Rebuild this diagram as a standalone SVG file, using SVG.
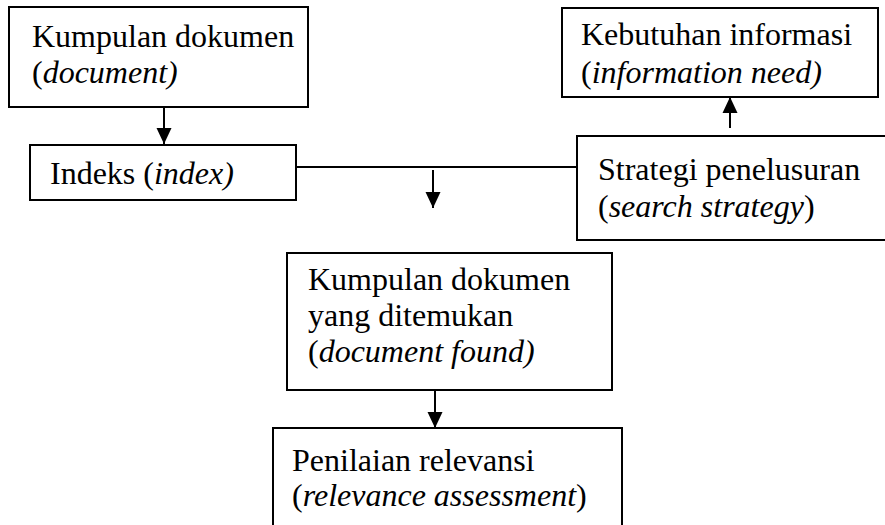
<svg xmlns="http://www.w3.org/2000/svg" width="885" height="525" viewBox="0 0 885 525">
<defs>
<style>
.box{fill:#fff;stroke:#000;stroke-width:2}
.t{font-family:'Liberation Serif','DejaVu Serif',serif;font-size:32px;fill:#000}
.i{font-style:italic}
.c{stroke:#000;stroke-width:2;fill:none}
</style>
<marker id="ah" markerUnits="userSpaceOnUse" markerWidth="16" markerHeight="16" viewBox="0 0 16 16" refX="16" refY="8" orient="auto">
<path d="M0,0.5 L16,8 L0,15.5 Z" fill="#000"/>
</marker>
</defs>
<rect width="885" height="525" fill="#fff"/>
<g id="connectors">
<line class="c" x1="164" y1="107" x2="164" y2="144" marker-end="url(#ah)"/>
<line class="c" x1="296" y1="167" x2="577" y2="167"/>
<line class="c" x1="433" y1="170" x2="433" y2="208" marker-end="url(#ah)"/>
<line class="c" x1="730" y1="128" x2="730" y2="97" marker-end="url(#ah)"/>
<line class="c" x1="435" y1="390" x2="435" y2="428" marker-end="url(#ah)"/>
</g>
<g id="node-dokumen">
<rect class="box" x="9" y="7" width="299" height="100"/>
<text class="t" x="32" y="47">Kumpulan dokumen</text>
<text class="t" x="32" y="83">(<tspan class="i">document)</tspan></text>
</g>
<g id="node-indeks">
<rect class="box" x="30" y="145" width="266" height="55"/>
<text class="t" x="50" y="184">Indeks (<tspan class="i">index)</tspan></text>
</g>
<g id="node-kebutuhan">
<rect class="box" x="562" y="8" width="316" height="89"/>
<text class="t" x="581" y="45">Kebutuhan informasi</text>
<text class="t" x="581" y="83">(<tspan class="i">information need)</tspan></text>
</g>
<g id="node-strategi">
<rect class="box" x="577" y="136" width="320" height="104"/>
<text class="t" x="598" y="180">Strategi penelusuran</text>
<text class="t" x="598" y="217">(<tspan class="i">search strategy</tspan>)</text>
</g>
<g id="node-ditemukan">
<rect class="box" x="287" y="253" width="325" height="137"/>
<text class="t" x="308" y="290">Kumpulan dokumen</text>
<text class="t" x="308" y="326">yang ditemukan</text>
<text class="t" x="308" y="362">(<tspan class="i">document found)</tspan></text>
</g>
<g id="node-relevansi">
<rect class="box" x="273" y="428" width="349" height="110"/>
<text class="t" x="292" y="471">Penilaian relevansi</text>
<text class="t" x="292" y="506">(<tspan class="i">relevance assessment</tspan>)</text>
</g>
</svg>
